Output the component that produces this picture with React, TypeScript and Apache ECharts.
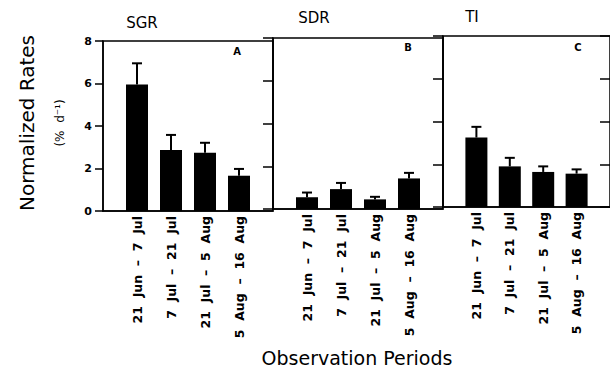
import React, { useEffect, useRef } from 'react';
import * as echarts from 'echarts';

const periods = ['21 Jun – 7 Jul', '7 Jul – 21 Jul', '21 Jul – 5 Aug', '5 Aug – 16 Aug'];
const panelTitles = ['SGR', 'SDR', 'TI'];
const panelLetters = ['A', 'B', 'C'];
const sgrMean = [5.95, 2.87, 2.74, 1.66];
const sgrUpper = [6.95, 3.58, 3.21, 1.98];
const sdrMean = [0.55, 0.93, 0.45, 1.43];
const sdrUpper = [0.77, 1.22, 0.57, 1.69];
const tiMean = [3.25, 1.9, 1.64, 1.56];
const tiUpper = [3.75, 2.3, 1.9, 1.76];
const yMin = 0;
const yMax = 8;
const yStep = 2;
const yTitle = 'Normalized Rates';
const yUnit = '(%  d⁻¹)';
const xTitle = 'Observation Periods';

const FONT = 'DejaVu Sans';

const spaced = (s: string) => s.split(' ').join('\u00a0\u00a0');

export default function App() {
  const ref = useRef<HTMLDivElement>(null);
  useEffect(() => {
    if (!ref.current) return;
    const chart = echarts.init(ref.current, undefined, { renderer: 'svg' });
    const grids = [
      { left: 103, top: 41, width: 170, height: 170 },
      { left: 273, top: 38, width: 170, height: 171 },
      { left: 443, top: 36, width: 170, height: 171 },
    ];
    const means = [sgrMean, sdrMean, tiMean];
    const uppers = [sgrUpper, sdrUpper, tiUpper];

    const xAxes = grids.map((_, i) => ({
      type: 'value',
      gridIndex: i,
      min: 0,
      max: 5,
      interval: 1,
      axisLine: { show: true, lineStyle: { color: '#000', width: 1.5 } },
      axisTick: { show: false },
      splitLine: { show: false },
      axisLabel: {
        rotate: 90,
        margin: 5,
        fontSize: 12.5,
        fontWeight: 'bold',
        fontFamily: FONT,
        color: '#000',
        showMinLabel: true,
        showMaxLabel: true,
        formatter: (v: number) => (v >= 1 && v <= 4 ? spaced(periods[v - 1]) : ''),
      },
    }));

    const yAxes: any[] = grids.map((_, i) => ({
      type: 'value',
      gridIndex: i,
      min: yMin,
      max: yMax,
      interval: yStep,
      position: 'left',
      axisLine: { show: true, lineStyle: { color: '#000', width: 1.5 } },
      axisTick: { show: true, inside: false, length: i === 0 ? 8 : 10, lineStyle: { color: '#000', width: 1.5 } },
      splitLine: { show: false },
      axisLabel: {
        show: i === 0,
        margin: 11,
        fontSize: 11,
        fontWeight: 'bold',
        fontFamily: FONT,
        color: '#000',
      },
    }));
    yAxes.push({
      type: 'value',
      gridIndex: 2,
      min: yMin,
      max: yMax,
      interval: yStep,
      position: 'right',
      axisLine: { show: false },
      axisTick: { show: true, inside: true, length: 10, lineStyle: { color: '#000', width: 1.5 } },
      splitLine: { show: false },
      axisLabel: { show: false },
    });

    const series: any[] = [];
    means.forEach((m, i) => {
      series.push({
        type: 'bar',
        xAxisIndex: i,
        yAxisIndex: i,
        barWidth: 22,
        itemStyle: { color: '#000' },
        data: m.map((v, k) => [k + 1, v]),
      });
      series.push({
        type: 'custom',
        xAxisIndex: i,
        yAxisIndex: i,
        z: 5,
        encode: { x: 0, y: [1, 2] },
        data: m.map((v, k) => [k + 1, v, uppers[i][k]]),
        renderItem: (params: any, api: any) => {
          const x = api.value(0);
          const p0 = api.coord([x, api.value(1)]);
          const p1 = api.coord([x, api.value(2)]);
          return {
            type: 'group',
            children: [
              { type: 'line', shape: { x1: p0[0], y1: p0[1], x2: p1[0], y2: p1[1] }, style: { stroke: '#000', lineWidth: 2 } },
              { type: 'line', shape: { x1: p1[0] - 5, y1: p1[1], x2: p1[0] + 5, y2: p1[1] }, style: { stroke: '#000', lineWidth: 2 } },
            ],
          };
        },
      });
    });

    const titlePos = [
      [142, 23],
      [314, 18],
      [472, 17],
    ];
    const letterPos = [
      [237, 51],
      [408, 47],
      [578, 47],
    ];
    const graphic: any[] = [];
    panelTitles.forEach((t, i) => {
      graphic.push({
        type: 'text',
        x: titlePos[i][0],
        y: titlePos[i][1],
        style: { text: t, fontSize: 15, fontFamily: FONT, fill: '#000', align: 'center', verticalAlign: 'middle' },
      });
      graphic.push({
        type: 'text',
        x: letterPos[i][0],
        y: letterPos[i][1],
        style: { text: panelLetters[i], fontSize: 10, fontWeight: 'bold', fontFamily: FONT, fill: '#000', align: 'center', verticalAlign: 'middle' },
      });
    });
    graphic.push({
      type: 'text',
      x: 27,
      y: 123,
      rotation: Math.PI / 2,
      style: { text: yTitle, fontSize: 20, fontFamily: FONT, fill: '#000', align: 'center', verticalAlign: 'middle' },
    });
    graphic.push({
      type: 'text',
      x: 60,
      y: 123,
      rotation: Math.PI / 2,
      style: { text: yUnit, fontSize: 12, fontFamily: FONT, fill: '#000', align: 'center', verticalAlign: 'middle' },
    });
    graphic.push({
      type: 'text',
      x: 357,
      y: 358,
      style: { text: xTitle, fontSize: 19, fontFamily: FONT, fill: '#000', align: 'center', verticalAlign: 'middle' },
    });

    chart.setOption({
      animation: false,
      backgroundColor: '#fff',
      grid: grids.map((g) => ({ ...g, show: true, borderColor: '#000', borderWidth: 1.5, backgroundColor: 'transparent' })),
      xAxis: xAxes,
      yAxis: yAxes,
      series,
      graphic,
    });
    return () => chart.dispose();
  }, []);
  return <div ref={ref} style={{ width: 610, height: 371, position: 'absolute', left: 0, top: 0 }} />;
}
